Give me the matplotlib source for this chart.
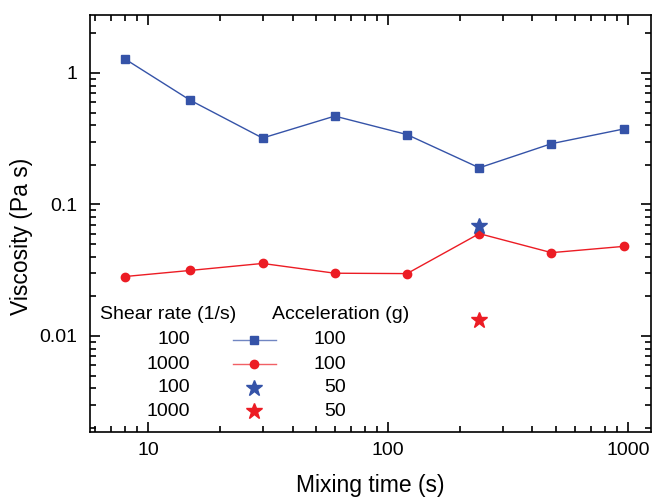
import numpy as np
import matplotlib
matplotlib.use("Agg")
import matplotlib.pyplot as plt
from matplotlib.ticker import LogLocator, NullFormatter, FixedLocator, FixedFormatter

plt.rcParams['font.family'] = ['Liberation Sans', 'DejaVu Sans']

# data
mix_time = [8, 15, 30, 60, 120, 240, 480, 960]
visc_100 = [1.28, 0.62, 0.32, 0.47, 0.34, 0.19, 0.29, 0.375]
visc_1000 = [0.0283, 0.0315, 0.0356, 0.0300, 0.0298, 0.060, 0.043, 0.048]
star_time = [240]
star_100 = [0.068]
star_1000 = [0.0132]

shear_labels = ["100", "1000", "100", "1000"]
accel_labels = ["100", "100", "50", "50"]

blue = "#3553a8"
red = "#ec1c24"

fig = plt.figure(figsize=(6.55, 4.98), dpi=100)
ax = fig.add_axes([90/655, 1-432/498, 561/655, 417/498])

ax.plot(mix_time, visc_100, color=blue, lw=1, marker='s', ms=5.5)
ax.plot(mix_time, visc_1000, color=red, lw=1, marker='o', ms=6)
ax.plot(star_time, star_100, ls='none', color=blue, marker='*', ms=12)
ax.plot(star_time, star_1000, ls='none', color=red, marker='*', ms=12)

ax.set_xscale('log')
ax.set_yscale('log')
ax.set_xlim(5.73, 1247)
ax.set_ylim(0.00186, 2.76)

ax.xaxis.set_major_locator(FixedLocator([10, 100, 1000]))
ax.xaxis.set_major_formatter(FixedFormatter(["10", "100", "1000"]))
ax.yaxis.set_major_locator(FixedLocator([0.01, 0.1, 1]))
ax.yaxis.set_major_formatter(FixedFormatter(["0.01", "0.1", "1"]))
ax.xaxis.set_minor_locator(LogLocator(base=10, subs=np.arange(2, 10)))
ax.yaxis.set_minor_locator(LogLocator(base=10, subs=np.arange(2, 10)))
ax.xaxis.set_minor_formatter(NullFormatter())
ax.yaxis.set_minor_formatter(NullFormatter())

ax.tick_params(which='both', direction='in', top=True, right=True, width=1.2)
ax.tick_params(which='major', length=7, labelsize=14)
ax.tick_params(which='minor', length=4)
ax.tick_params(axis='x', pad=7.5)
ax.tick_params(axis='y', pad=9)
for s in ax.spines.values():
    s.set_linewidth(1.2)

ax.set_xlabel("Mixing time (s)", fontsize=16.5)
ax.set_ylabel("Viscosity (Pa s)", fontsize=16.5)
ax.xaxis.set_label_coords(0.5, -0.1)
ax.yaxis.set_label_coords(-0.102, 0.468)

# table-style legend
tr = ax.transAxes
ax.text(0.018, 0.281, "Shear rate (1/s)", transform=tr, fontsize=14, va='center')
ax.text(0.324, 0.281, "Acceleration (g)", transform=tr, fontsize=14, va='center')
rows = [0.221, 0.163, 0.106, 0.050]
styles = [(blue, 's', 5.5, '-'), (red, 'o', 6, '-'), (blue, '*', 12, 'none'), (red, '*', 12, 'none')]
for y, sh, ac, (c, m, ms, ls) in zip(rows, shear_labels, accel_labels, styles):
    ax.text(0.178, y, sh, transform=tr, fontsize=14, va='center', ha='right')
    ax.text(0.456, y, ac, transform=tr, fontsize=14, va='center', ha='right')
    if ls == '-':
        ax.plot([0.255, 0.332], [y, y], transform=tr, color=c, lw=1, alpha=0.7)
    ax.plot([0.292], [y], transform=tr, color=c, marker=m, ms=ms, ls='none')

fig.savefig("out.png", dpi=100)
